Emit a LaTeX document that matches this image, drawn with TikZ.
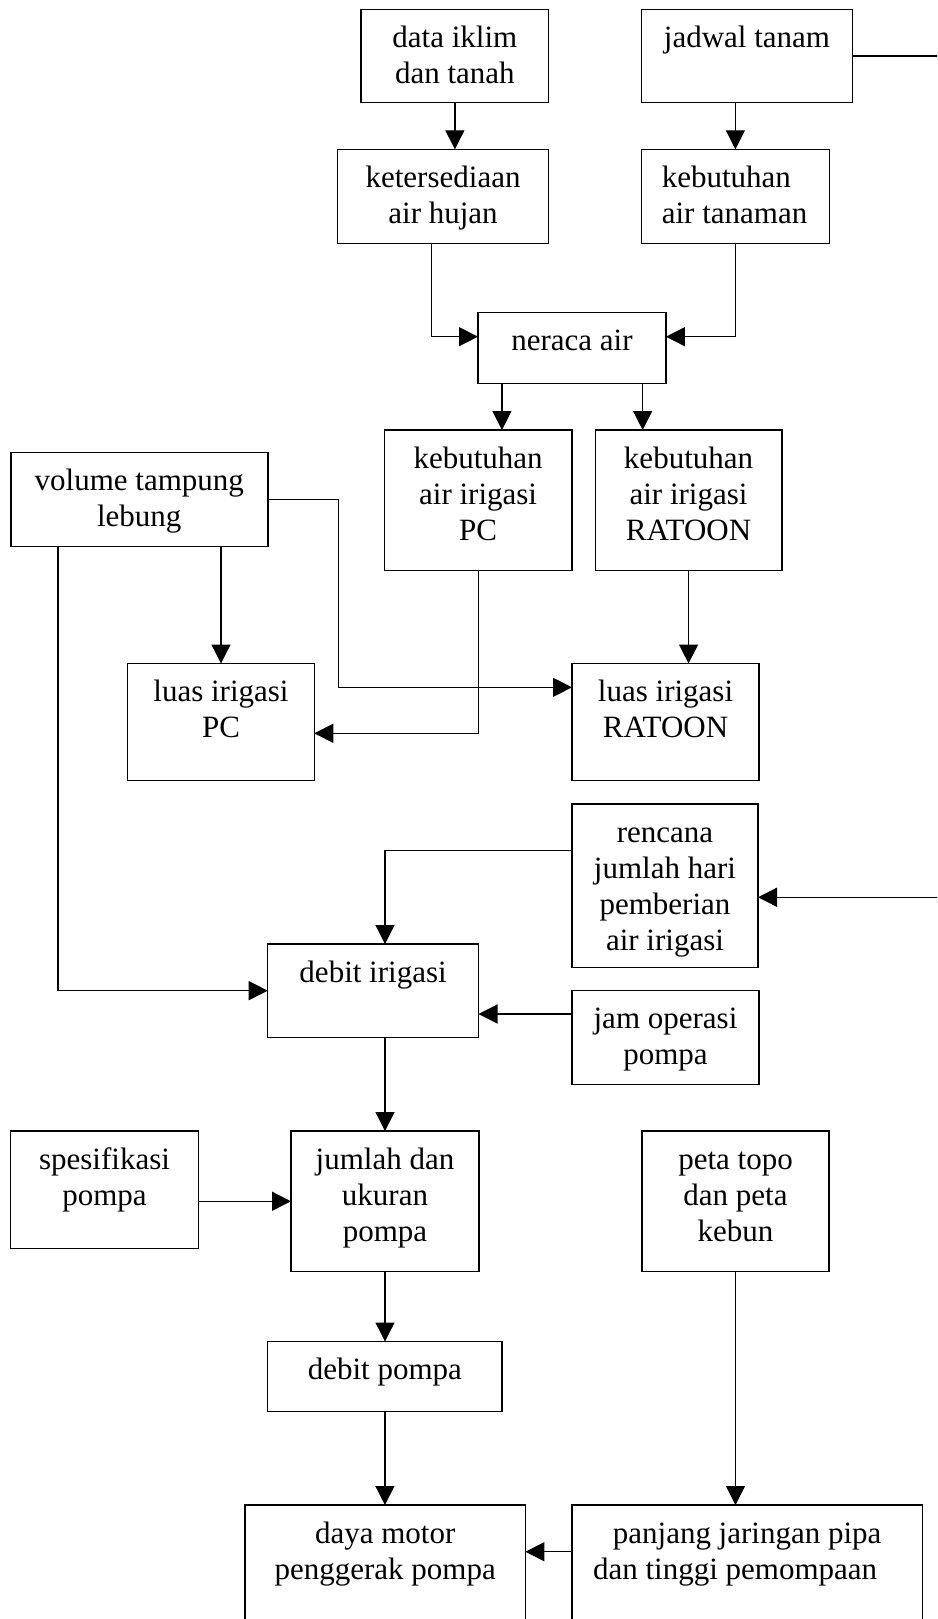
\documentclass[tikz,border=0pt]{standalone}
\usepackage{fontspec}
\setmainfont{Liberation Serif}
\usetikzlibrary{arrows.meta,calc}
\tikzset{
 bx/.style={draw, line width=1.4pt, inner sep=0pt, outer sep=0pt, anchor=north west, font=\fontsize{31}{36}\selectfont},
 arr/.style={line width=1.3pt, -{Triangle[length=19pt,width=19pt]}}
}
\newcommand{\bxn}[7][\centering]{\node[bx] (#2) at (#3,#4) {\parbox[c][#6pt][t]{#5pt}{#1\vspace*{12.8pt}\strut #7}};}
\begin{document}
\begin{tikzpicture}[x=1pt,y=-1pt]
\useasboundingbox (0,0) rectangle (937,1619);
\clip (0,0) rectangle (937,1619);
\fill[white] (0,0) rectangle (937,1619);
% boxes
\bxn{data}{361}{9.3}{187.7}{93.4}{data iklim\\dan tanah}
\bxn{jadwal}{641.5}{9.3}{211}{93.4}{jadwal tanam}
\bxn{ket}{337.4}{149.3}{211.3}{94}{ketersediaan\\air hujan}
\bxn[\raggedright\leftskip=20.3pt]{kebt}{641.5}{149.3}{187.8}{94}{kebutuhan\\air tanaman}
\bxn{neraca}{478}{312.7}{187.9}{70.6}{neraca air}
\bxn{kebpc}{384.3}{430}{187.7}{140.7}{kebutuhan\\air irigasi\\PC}
\bxn{kebrat}{595.3}{430}{186.5}{140.7}{kebutuhan\\air irigasi\\RATOON}
\bxn{vol}{10.8}{452.7}{257}{94}{volume tampung\\lebung}
\bxn{luaspc}{127.7}{663.5}{186.6}{117.2}{luas irigasi\\PC}
\bxn{luasrat}{572}{663.5}{187.1}{117.2}{luas irigasi\\RATOON}
\bxn{rencana}{572}{804}{186}{163.3}{rencana\\jumlah hari\\pemberian\\air irigasi}
\bxn{debit}{267.7}{944}{210.8}{93.3}{debit irigasi}
\bxn{jam}{572}{990.7}{187}{94}{jam operasi\\pompa}
\bxn{spec}{10.7}{1131}{187.6}{117.3}{spesifikasi\\pompa}
\bxn{jumlah}{291}{1131}{188}{140.5}{jumlah dan\\ukuran\\pompa}
\bxn{peta}{642}{1131}{187}{140.5}{peta topo\\dan peta\\kebun}
\bxn{debitp}{267.7}{1341.5}{234.4}{70.2}{debit pompa}
\bxn{daya}{245}{1505}{280.4}{125}{daya motor\\penggerak pompa}
\bxn{panjang}{572}{1505}{350.3}{125}{panjang jaringan pipa\\dan tinggi pemompaan\hspace*{24pt}}
% connectors
\draw[arr] (data.south) -- (data.south |- ket.north);
\draw[arr] (kebt.north |- jadwal.south) -- (kebt.north);
\draw[arr] ([xshift=-11.75pt]ket.south) |- ([yshift=11.3pt]neraca.west);
\draw[arr] (kebt.south) |- ([yshift=11.3pt]neraca.east);
\draw[arr] ([xshift=-70pt]neraca.south) -- ([xshift=-70pt]neraca.south |- kebpc.north);
\draw[arr] ([xshift=70.7pt]neraca.south) -- ([xshift=70.7pt]neraca.south |- kebrat.north);
\draw[arr] (kebpc.south) |- ([yshift=-11.2pt]luaspc.east);
\draw[arr] (kebrat.south) -- (kebrat.south |- luasrat.north);
\draw[arr] (luaspc.north |- vol.south) -- (luaspc.north);
\draw[arr] (vol.east) -- ++(70.5,0) |- ([yshift=34.8pt]luasrat.west);
\draw[arr] ([xshift=47.2pt]vol.south west) |- (debit.west);
\draw[arr] ([yshift=35pt]rencana.west) -| ([xshift=11.9pt]debit.north);
\draw[arr] (jadwal.east) -- ++(92,0) |- ([yshift=-11.6pt]rencana.east);
\draw[arr] ([yshift=23.7pt]jam.west) -- ([yshift=23.7pt]jam.west -| debit.east);
\draw[arr] (jumlah.north |- debit.south) -- (jumlah.north);
\draw[arr] (jumlah.west -| spec.east) -- (jumlah.west);
\draw[arr] (jumlah.south) -- (jumlah.south |- debitp.north);
\draw[arr] (debitp.south) -- (debitp.south |- daya.north);
\draw[arr] (peta.south) -- (peta.south |- panjang.north);
\draw[arr] ([yshift=15.8pt]panjang.west) -- ([yshift=15.8pt]panjang.west -| daya.east);
\end{tikzpicture}
\end{document}
